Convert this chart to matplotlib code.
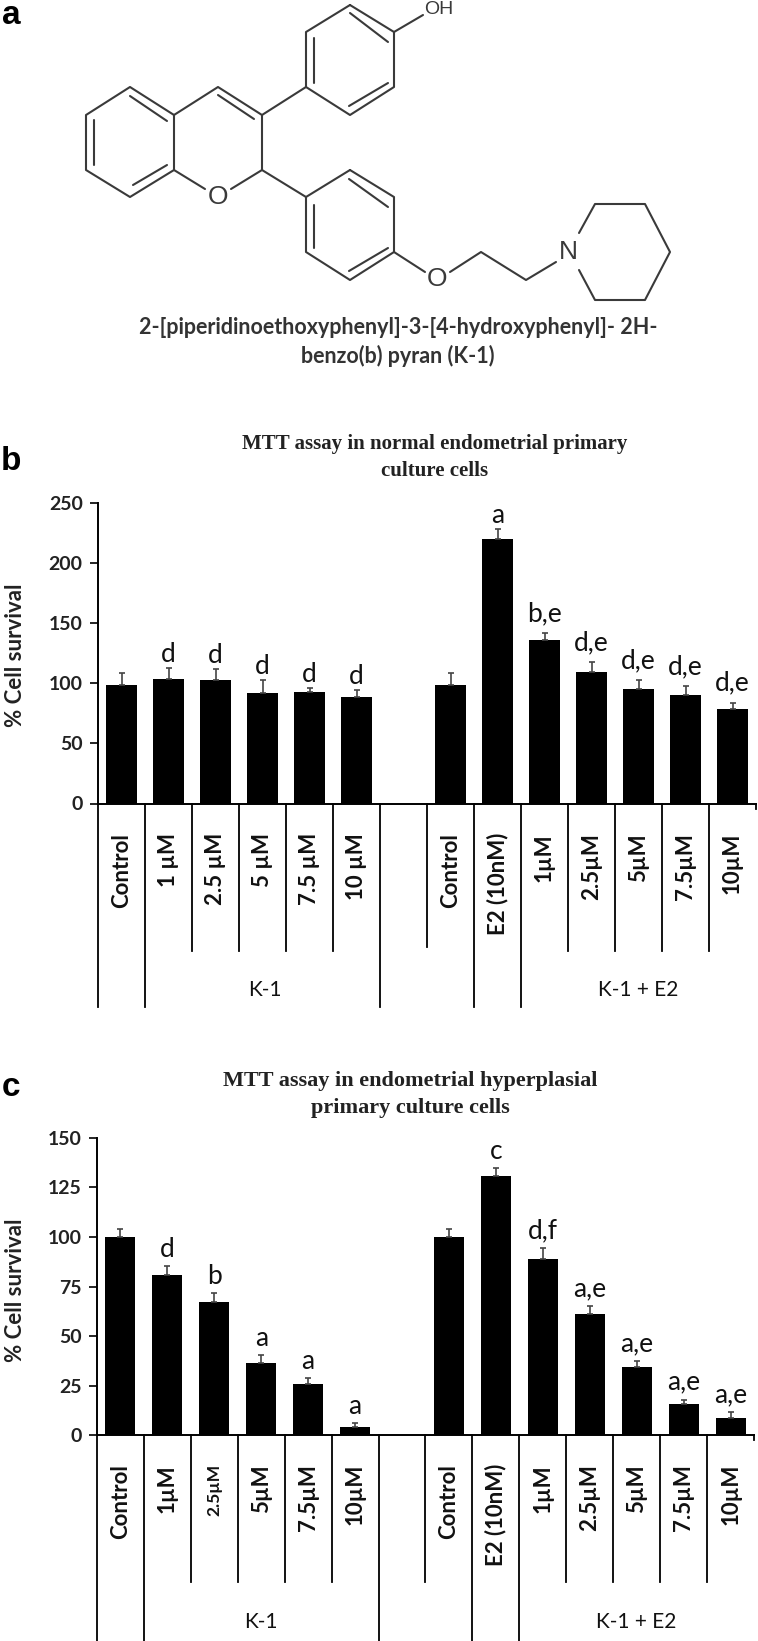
import matplotlib
matplotlib.use('Agg')
import matplotlib.pyplot as plt
from matplotlib.transforms import blended_transform_factory as blend
import numpy as np

W, H = 758, 1641
SANS = ['Lato', 'DejaVu Sans']
plt.rcParams['font.family'] = SANS

labels_b = ['Control', '1 µM', '2.5 µM', '5 µM', '7.5 µM', '10 µM', '',
            'Control', 'E2 (10nM)', '1µM', '2.5µM', '5µM', '7.5µM', '10µM']
values_b = [99, 103.5, 102.5, 92, 93, 88.5, np.nan, 99, 220.5, 136, 109.5, 95.5, 90, 79]
errors_b = [9.5, 9.5, 9.5, 10.7, 3.3, 6.2, np.nan, 9.5, 8.5, 6, 8.2, 7.2, 8, 5]
marks_b = ['', 'd', 'd', 'd', 'd', 'd', '', '', 'a', 'b,e', 'd,e', 'd,e', 'd,e', 'd,e']

labels_c = ['Control', '1µM', '2.5µM', '5µM', '7.5µM', '10µM', '',
            'Control', 'E2 (10nM)', '1µM', '2.5µM', '5µM', '7.5µM', '10µM']
values_c = [100, 81, 67, 36.4, 26, 4, np.nan, 100, 130.6, 88.7, 61.3, 34.6, 15.7, 8.8]
errors_c = [4, 4.6, 5, 4, 3, 2, np.nan, 4, 4.4, 5.6, 3.9, 2.9, 2.3, 3]
marks_c = ['', 'd', 'b', 'a', 'a', 'a', '', '', 'c', 'd,f', 'a,e', 'a,e', 'a,e', 'a,e']

fig = plt.figure(figsize=(W / 100, H / 100), dpi=100, facecolor='white')
ov = fig.add_axes([0, 0, 1, 1], zorder=0)
ov.set_xlim(0, W)
ov.set_ylim(H, 0)
ov.axis('off')

# ---- structure diagram, panel a (pixel coordinates of the figure)
bonds = [
    [(350, 5), (394, 32), (394, 87), (350, 115), (306, 87), (306, 32), (350, 5)],
    [(350, 13), (388, 42)], [(388, 83), (349, 106)], [(314, 38), (314, 83)],
    [(394, 32), (423, 15)],
    [(306, 87), (262, 115), (218, 87), (174, 115), (174, 170), (130, 197), (86, 170), (86, 115), (130, 87), (174, 115)],
    [(218, 95), (254, 119)], [(130, 96), (167, 121)], [(94, 120), (94, 165)], [(133, 185), (167, 165)],
    [(174, 170), (205, 189)], [(231, 189), (262, 170), (262, 115)],
    [(262, 170), (306, 197)],
    [(350, 170), (394, 197), (394, 252), (350, 280), (306, 252), (306, 197), (350, 170)],
    [(349, 179), (388, 207)], [(314, 205), (314, 248)], [(349, 271), (388, 248)],
    [(394, 252), (425, 272)],
    [(450, 272), (481, 252), (526, 280), (556, 262)],
    [(579, 233), (595, 204), (645, 204), (670, 252), (645, 300), (595, 300), (579, 270)],
]
for b in bonds:
    xs, ys = zip(*b)
    ov.plot(xs, ys, color='#3a3a3a', lw=1.5, solid_capstyle='round')
for (x, y, s, fs) in [(439, 10, 'OH', 14), (218, 197, 'O', 19), (437, 279, 'O', 19), (568, 252, 'N', 19)]:
    ov.text(x, y, s, ha='center', va='center', fontsize=fs, color='#3a3a3a', family=['Liberation Sans'])
ov.text(398, 327, '2-[piperidinoethoxyphenyl]-3-[4-hydroxyphenyl]- 2H-', ha='center', va='center',
        fontsize=15.5, color='#333333', fontweight='bold')
ov.text(398, 356, 'benzo(b) pyran (K-1)', ha='center', va='center',
        fontsize=15.5, color='#333333', fontweight='bold')

for (x, y, s) in [(11, 15, 'a'), (11, 462, 'b'), (11, 1088, 'c')]:
    ov.text(x, y, s, ha='center', va='center', fontsize=24, fontweight='bold', family=['Liberation Sans'], color='black')


LONG_SEPS = (0, 1, 6, 8, 9)
CTRL_SEP = 7
SMALL_LABEL = {('c', 2): 12.5}


def panel(key, left, right, top, bot, ymax, step, labels, values, errors, marks, title, title_x, title_ys, title_fs,
          lab_top, short_end, ctrl_end, long_end, group_y, group_xs, gaps, ylab_y):
    ax = fig.add_axes([left / W, 1 - bot / H, (right - left) / W, (bot - top) / H], zorder=2)
    ax.patch.set_alpha(0)
    x = np.arange(len(values)) + 0.5
    ax.bar(x, values, width=0.64, color='black')
    ax.errorbar(x, values, yerr=[np.zeros(len(values)), errors], fmt='none', ecolor='#444444',
                elinewidth=1.2, capsize=2.5, capthick=1.2)
    ax.set_xlim(0, len(values))
    ax.set_ylim(0, ymax)
    ax.set_yticks(np.arange(0, ymax + 1, step))
    ax.set_xticks([])
    ax.tick_params(axis='y', labelsize=14, length=6, width=1.2, pad=5, labelcolor='#222222')
    for lb in ax.get_yticklabels():
        lb.set_fontweight('bold')
    for s in ['top', 'right']:
        ax.spines[s].set_visible(False)
    for s in ['left', 'bottom']:
        ax.spines[s].set_linewidth(1.4)
    ov.text(16, ylab_y, '% Cell survival', rotation=90, ha='center', va='center', fontsize=16,
            fontweight='bold', color='#222222')

    # multi-level category separators
    tr = blend(ax.transData, ov.transData)
    n = len(values)
    for i in range(n):
        end = long_end if i in LONG_SEPS else (ctrl_end if i == CTRL_SEP else short_end)
        ax.plot([i, i], [bot, end], transform=tr, color='black', lw=1.3, clip_on=False)
    ax.plot([n, n], [bot, bot + 5], transform=tr, color='black', lw=1.3, clip_on=False)

    for i, (xi, lab) in enumerate(zip(x, labels)):
        if lab:
            ax.text(xi, lab_top, lab, transform=tr, rotation=90, ha='center', va='top',
                    fontsize=SMALL_LABEL.get((key, i), 16), fontweight='bold', color='#111111')
    for xi, v, e, m in zip(x, values, errors, marks):
        if m:
            gap = gaps[1] if ',' in m else gaps[0]
            ax.annotate(m, (xi, v + e), xytext=(0, gap * 0.72), textcoords='offset points', ha='center',
                        va='baseline', fontsize=19, color='#111111')
    for gx, s in zip(group_xs, ['K-1', 'K-1 + E2']):
        ov.text(gx, group_y, s, ha='center', va='center', fontsize=15, color='#111111')
    for ty, t in zip(title_ys, title):
        ov.text(title_x, ty, t, ha='center', va='center', fontsize=title_fs, fontweight='bold',
                family=['Liberation Serif'], color='#222222')
    return ax


panel('b', 98, 756, 503.4, 803.5, 250, 50, labels_b, values_b, errors_b, marks_b,
      ['MTT assay in normal endometrial primary', 'culture cells'], 435, [444, 471], 15,
      833, 951, 947, 1007, 990, [265, 638], (6, 12), 655)
panel('c', 97, 754, 1137.8, 1435.3, 150, 25, labels_c, values_c, errors_c, marks_c,
      ['MTT assay in endometrial hyperplasial', 'primary culture cells'], 410, [1081, 1108], 16,
      1464, 1582, 1582, 1641, 1622, [261, 636], (9, 10), 1290)

fig.savefig('out.png', dpi=100, facecolor='white')
